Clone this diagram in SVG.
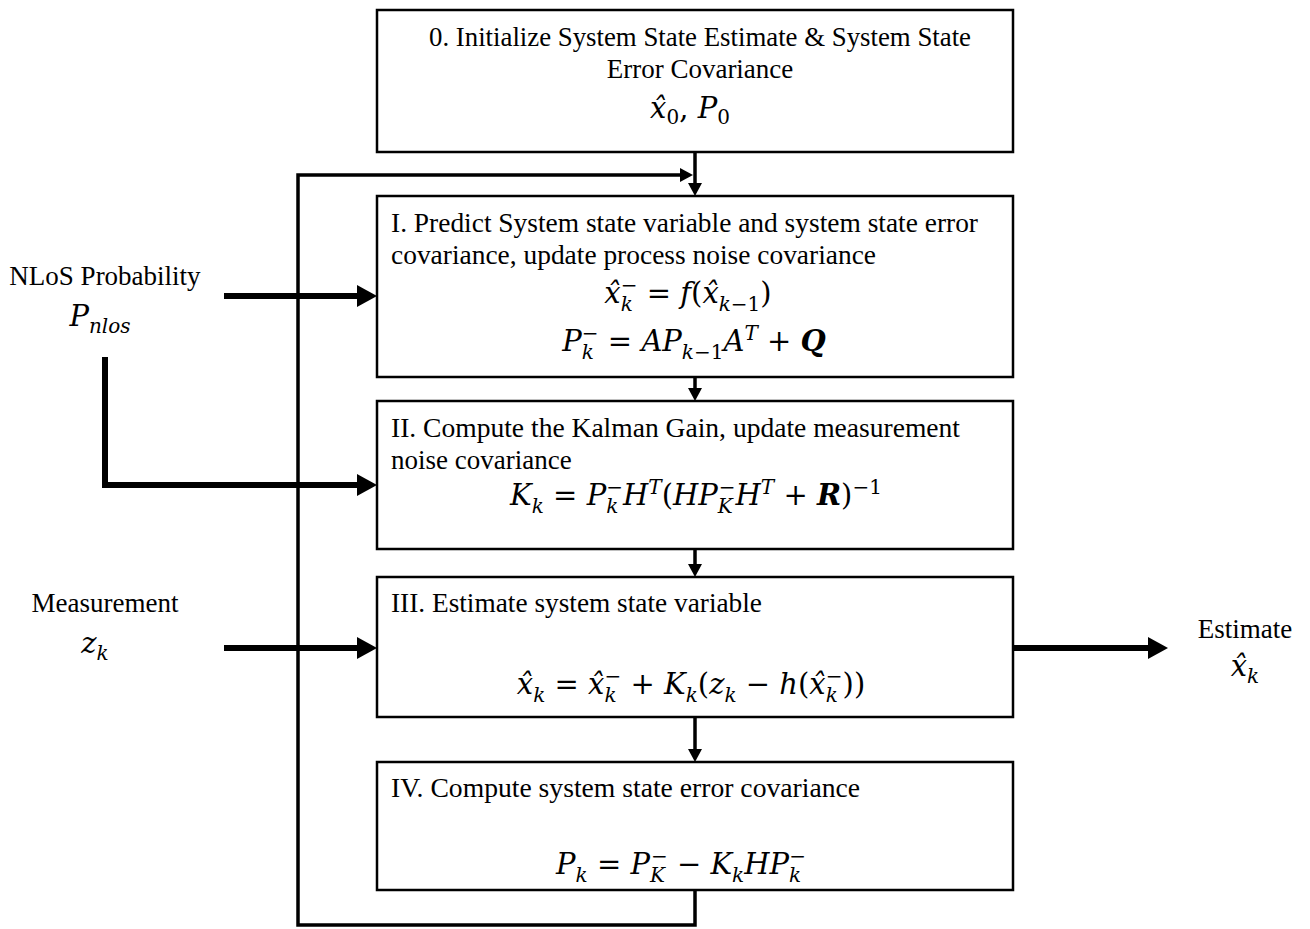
<svg xmlns="http://www.w3.org/2000/svg" width="1310" height="929" viewBox="0 0 1310 929">
<style>
.box{fill:#fff;stroke:#000;stroke-width:2.5}
.t{font-family:"Liberation Serif","Times New Roman",serif;font-size:27px;fill:#000}
.m{font-family:"DejaVu Serif","Liberation Serif",serif;font-size:29px;font-style:italic;fill:#000}
.u{font-style:normal}
.s{font-size:20px}
.b{font-weight:bold}
.thin{fill:none;stroke:#000;stroke-width:3.5}
.thick{fill:none;stroke:#000;stroke-width:6}
</style>
<defs>
<marker id="ah" markerUnits="userSpaceOnUse" markerWidth="13" markerHeight="14" refX="0" refY="7" orient="auto"><path d="M0,0 L13,7 L0,14 z" fill="#000"/></marker>
<marker id="AH" markerUnits="userSpaceOnUse" markerWidth="20" markerHeight="22" refX="0" refY="11" orient="auto"><path d="M0,0 L20,11 L0,22 z" fill="#000"/></marker>
</defs>
<rect width="1310" height="929" fill="#fff"/>
<g id="connectors">
<line class="thin" x1="695" y1="152" x2="695" y2="183" marker-end="url(#ah)"/>
<polyline class="thin" points="695,890 695,925 298,925 298,175 680,175" marker-end="url(#ah)"/>
<line class="thin" x1="695" y1="377" x2="695" y2="388" marker-end="url(#ah)"/>
<line class="thin" x1="695" y1="549" x2="695" y2="564" marker-end="url(#ah)"/>
<line class="thin" x1="695" y1="717" x2="695" y2="749" marker-end="url(#ah)"/>
<line class="thick" x1="224" y1="296" x2="357" y2="296" marker-end="url(#AH)"/>
<polyline class="thick" points="105,357 105,485 357,485" marker-end="url(#AH)"/>
<line class="thick" x1="224" y1="648" x2="357" y2="648" marker-end="url(#AH)"/>
<line class="thick" x1="1013" y1="648" x2="1148" y2="648" marker-end="url(#AH)"/>
</g>
<g id="node0">
<rect class="box" x="377" y="10" width="636" height="142"/>
<text class="t" x="700" y="46" text-anchor="middle" textLength="542" lengthAdjust="spacingAndGlyphs">0. Initialize  System State Estimate &amp; System State</text>
<text class="t" x="700" y="78" text-anchor="middle">Error Covariance</text>
<text class="m" x="690" y="118" text-anchor="middle">x̂<tspan class="s u" dy="6">0</tspan><tspan class="u" dy="-6">, </tspan>P<tspan class="s u" dy="6">0</tspan></text>
</g>
<g id="node1">
<rect class="box" x="377" y="196" width="636" height="181"/>
<text class="t" x="391" y="232" textLength="587" lengthAdjust="spacingAndGlyphs">I. Predict System state variable  and system state error</text>
<text class="t" x="391" y="264" textLength="485" lengthAdjust="spacingAndGlyphs">covariance, update process noise covariance</text>
<text class="m" x="688" y="303" text-anchor="middle">x̂<tspan class="s" dy="8">k</tspan><tspan class="s u" dx="-12" dy="-19">−</tspan><tspan class="u" dy="11"> = </tspan>f<tspan class="u">(</tspan>x̂<tspan class="s" dy="8">k</tspan><tspan class="s u">−1</tspan><tspan class="u" dy="-8">)</tspan></text>
<text class="m" x="694" y="351" text-anchor="middle">P<tspan class="s" dy="8">k</tspan><tspan class="s u" dx="-12" dy="-19">−</tspan><tspan class="u" dy="11"> = </tspan>AP<tspan class="s" dy="8">k</tspan><tspan class="s u">−1</tspan><tspan dy="-8">A</tspan><tspan class="s" dy="-11">T</tspan><tspan class="u" dy="11"> + </tspan><tspan class="b">Q</tspan></text>
</g>
<g id="node2">
<rect class="box" x="377" y="401" width="636" height="148"/>
<text class="t" x="391" y="437" textLength="569" lengthAdjust="spacingAndGlyphs">II. Compute the Kalman Gain, update measurement</text>
<text class="t" x="391" y="469">noise covariance</text>
<text class="m" x="696" y="505" text-anchor="middle">K<tspan class="s" dy="8">k</tspan><tspan class="u" dy="-8"> = </tspan>P<tspan class="s" dy="8">k</tspan><tspan class="s u" dx="-12" dy="-19">−</tspan><tspan dy="11">H</tspan><tspan class="s" dy="-11">T</tspan><tspan class="u" dy="11">(</tspan>HP<tspan class="s" dy="8">K</tspan><tspan class="s u" dx="-14" dy="-19">−</tspan><tspan dy="11">H</tspan><tspan class="s" dy="-11">T</tspan><tspan class="u" dy="11"> + </tspan><tspan class="b">R</tspan><tspan class="u">)</tspan><tspan class="s u" dy="-11">−1</tspan></text>
</g>
<g id="node3">
<rect class="box" x="377" y="577" width="636" height="140"/>
<text class="t" x="391" y="612" textLength="371" lengthAdjust="spacingAndGlyphs">III. Estimate system state variable</text>
<text class="m" x="691" y="694" text-anchor="middle">x̂<tspan class="s" dy="8">k</tspan><tspan class="u" dy="-8"> = </tspan>x̂<tspan class="s" dy="8">k</tspan><tspan class="s u" dx="-12" dy="-19">−</tspan><tspan class="u" dy="11"> + </tspan>K<tspan class="s" dy="8">k</tspan><tspan class="u" dy="-8">(</tspan>z<tspan class="s" dy="8">k</tspan><tspan class="u" dy="-8"> − </tspan>h<tspan class="u">(</tspan>x̂<tspan class="s" dy="8">k</tspan><tspan class="s u" dx="-12" dy="-19">−</tspan><tspan class="u" dy="11">))</tspan></text>
</g>
<g id="node4">
<rect class="box" x="377" y="762" width="636" height="128"/>
<text class="t" x="391" y="797" textLength="469" lengthAdjust="spacingAndGlyphs">IV. Compute system state error covariance</text>
<text class="m" x="681" y="874" text-anchor="middle">P<tspan class="s" dy="8">k</tspan><tspan class="u" dy="-8"> = </tspan>P<tspan class="s" dy="8">K</tspan><tspan class="s u" dx="-14" dy="-19">−</tspan><tspan class="u" dy="11"> − </tspan>K<tspan class="s" dy="8">k</tspan><tspan dy="-8">HP</tspan><tspan class="s" dy="8">k</tspan><tspan class="s u" dx="-12" dy="-19">−</tspan></text>
</g>
<g id="nlos">
<text class="t" x="105" y="285" text-anchor="middle">NLoS Probability</text>
<text class="m" x="100" y="326" text-anchor="middle">P<tspan class="s" dy="7">nlos</tspan></text>
</g>
<g id="measurement">
<text class="t" x="105" y="612" text-anchor="middle">Measurement</text>
<text class="m" x="95" y="653" text-anchor="middle">z<tspan class="s" dy="7">k</tspan></text>
</g>
<g id="estimate">
<text class="t" x="1245" y="638" text-anchor="middle">Estimate</text>
<text class="m" x="1245" y="676" text-anchor="middle">x̂<tspan class="s" dy="7">k</tspan></text>
</g>
</svg>
